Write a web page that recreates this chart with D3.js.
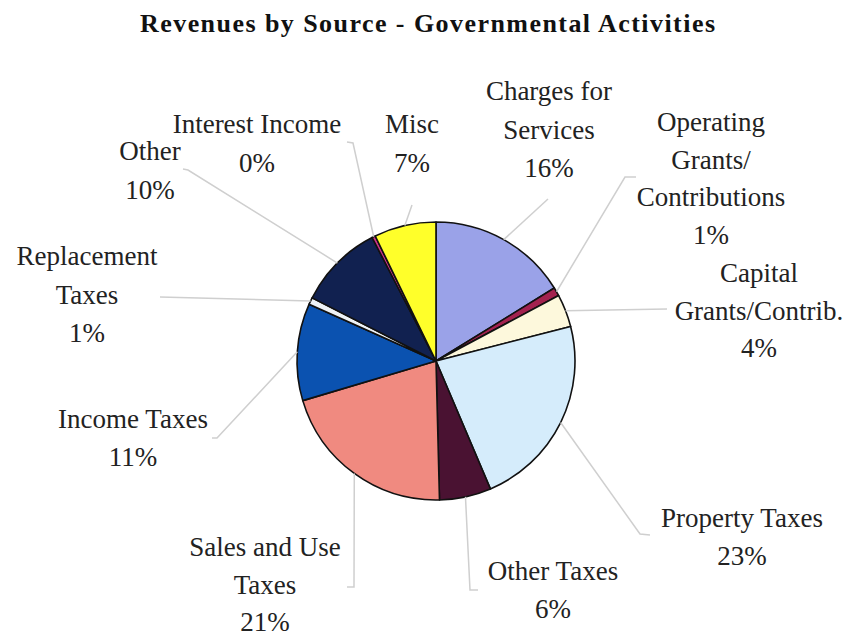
<!DOCTYPE html>
<html>
<head>
<meta charset="utf-8">
<script src="https://cdn.jsdelivr.net/npm/d3@7"></script>
</head>
<body style="margin:0;background:#fff">
<svg id="chart" width="848" height="638" font-family="Liberation Serif"></svg>
<script>
// ---- data ----
const categories = ["Charges for Services","Operating Grants/ Contributions","Capital Grants/Contrib.","Property Taxes","Other Taxes","Sales and Use Taxes","Income Taxes","Replacement Taxes","Other","Interest Income","Misc"];
const values = [16.2, 1.0, 3.8, 22.6, 6.0, 20.8, 11.3, 0.8, 9.9, 0.4, 7.2];
const labelLines = [
  ["Charges for","Services"],
  ["Operating","Grants/","Contributions"],
  ["Capital","Grants/Contrib."],
  ["Property Taxes"],
  ["Other Taxes"],
  ["Sales and Use","Taxes"],
  ["Income Taxes"],
  ["Replacement","Taxes"],
  ["Other"],
  ["Interest Income"],
  ["Misc"]
];
const colors = ["#9aa2e8","#a3224f","#fdf8dc","#d5ecfb","#4a1232","#f08a80","#0b52b0","#eef2f6","#112150","#cc3388","#ffff2a"];

// ---- layout (not data) ----
const FONT = '"Liberation Serif"';
const cx = 436, cy = 361, R = 139;
const labelPos = [ // [center x, first baseline, line height]
  [549, 100, 38.5],
  [711, 131, 37.5],
  [759, 282, 37.5],
  [742, 527, 38],
  [553, 580, 38],
  [265, 556, 37.5],
  [133, 428, 37.5],
  [87, 265, 38.5],
  [150, 160, 39],
  [257, 133, 39],
  [412, 133, 39]
];
const leaderEnds = [ // polyline after arc point
  [[548,199]],
  [[625,177],[636,177]],
  [[667,309]],
  [[640,534],[650,535]],
  [[470,590],[478,590]],
  [[354,587],[347,587]],
  [[217,438],[212,438]],
  [[160,297]],
  [[188,170],[183,169]],
  [[353,143],[347,142]],
  [[412,205]]
];

const svg = d3.select("#chart");
const total = d3.sum(values);

svg.append("text")
  .attr("x", 427.5).attr("y", 32)
  .attr("font-size", 26)
  .style("font-family", FONT)
  .attr("text-anchor","middle")
  .attr("font-weight","bold")
  .attr("textLength", 575)
  .attr("lengthAdjust","spacing")
  .attr("fill","#111")
  .text("Revenues by Source - Governmental Activities");

const pie = d3.pie().sort(null).value(d => d)(values);
const arc = d3.arc().innerRadius(0).outerRadius(R);
const g = svg.append("g").attr("transform", `translate(${cx},${cy})`);

// leader lines
const lineGen = d3.line();
pie.forEach((p, i) => {
  const mid = (p.startAngle + p.endAngle) / 2;
  const start = [cx + R * Math.sin(mid), cy - R * Math.cos(mid)];
  svg.append("path")
    .attr("d", lineGen([start, ...leaderEnds[i]]))
    .attr("fill","none")
    .attr("stroke","#cfcfcf")
    .attr("stroke-width",1.5);
});

g.selectAll("path.slice")
  .data(pie)
  .join("path")
  .attr("class","slice")
  .attr("d", arc)
  .attr("fill", (d,i) => colors[i])
  .attr("stroke","#111")
  .attr("stroke-width",1.6)
  .attr("stroke-linejoin","round");

// labels
categories.forEach((c, i) => {
  const [lx, ly, lh] = labelPos[i];
  const lines = labelLines[i].concat([Math.round(values[i] / total * 100) + "%"]);
  const t = svg.append("text")
    .attr("font-size", 27)
    .style("font-family", FONT)
    .attr("text-anchor","middle")
    .attr("fill","#222");
  lines.forEach((s, k) => {
    t.append("tspan").attr("x", lx).attr("y", ly + k * lh).style("font-family", FONT).text(s);
  });
});
</script>
</body>
</html>
